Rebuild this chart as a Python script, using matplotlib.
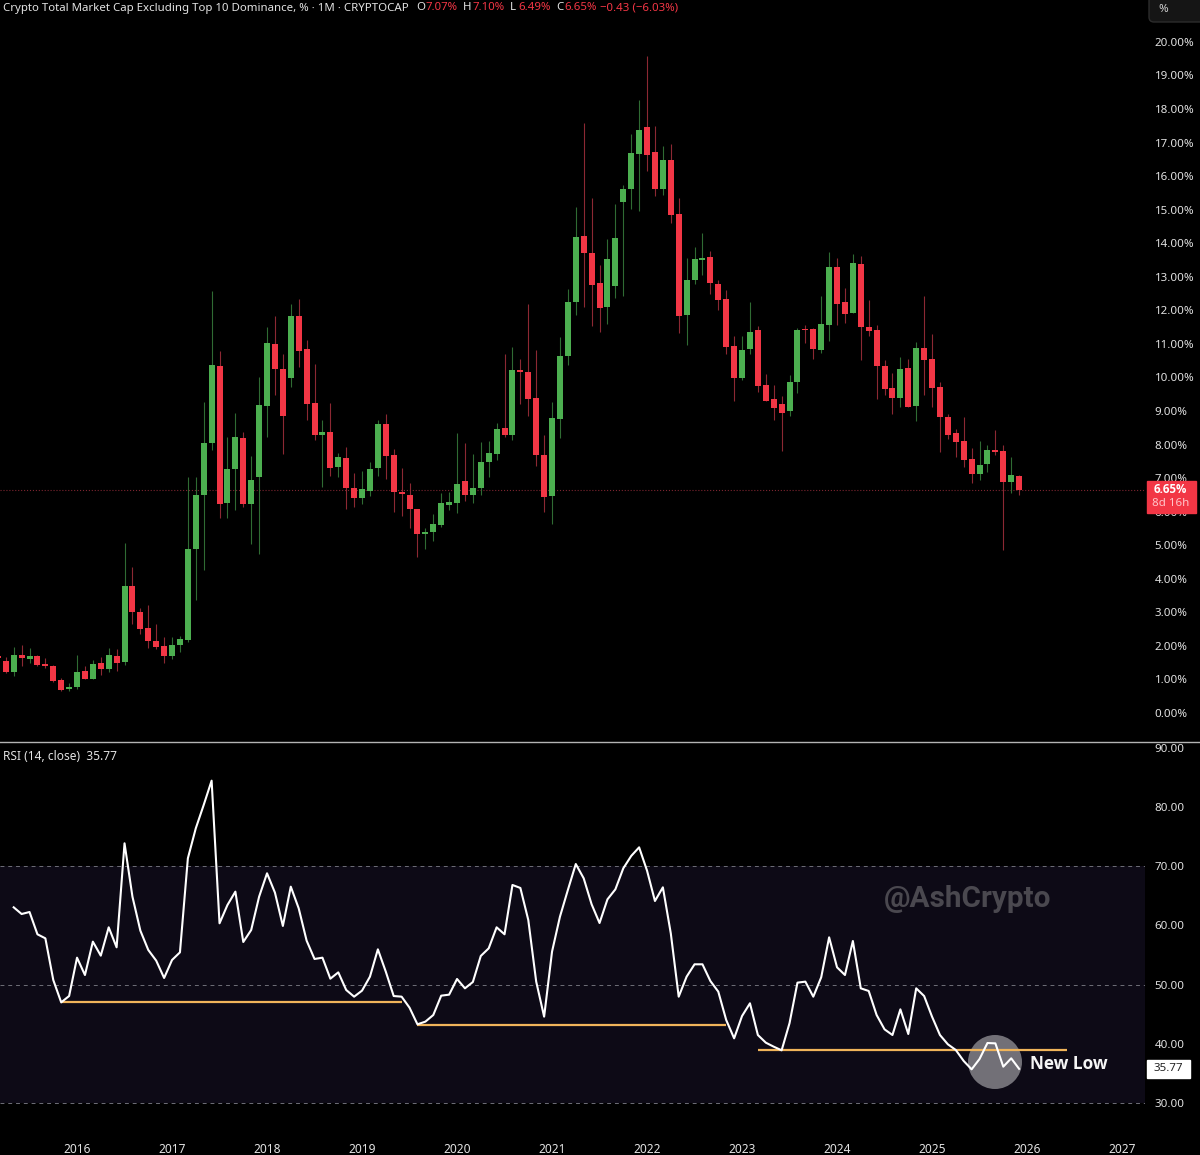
# plot.py
# Total market cap excl. top 10 dominance, monthly candles + RSI panel

import numpy as np
import matplotlib
matplotlib.use("Agg")
import matplotlib.pyplot as plt
from matplotlib.lines import Line2D
from matplotlib.patches import Circle, FancyBboxPatch, Rectangle

# --- Data: month index, 0 = Jan 2016 ---
months = np.arange(-10, 120)

opens = [
    1.70, 1.55, 1.21, 1.72, 1.61, 1.70, 1.47, 1.40, 0.99, 0.70,
    0.77, 1.25, 1.02, 1.49, 1.32, 1.71, 1.51, 3.79, 3.02, 2.52, 2.16, 2.00,
    1.69, 2.02, 2.18, 4.88, 6.50, 8.04, 10.35, 6.25, 7.26, 8.20, 6.23, 7.04,
    9.15, 11.01, 10.25, 9.99, 11.82, 10.84, 9.24, 8.29, 8.36, 7.33, 7.59, 6.70,
    6.41, 6.61, 7.29, 8.60, 7.69, 6.59, 6.51, 6.08, 5.32, 5.40, 5.59, 6.19,
    6.27, 6.90, 6.49, 6.71, 7.48, 7.72, 8.49, 8.30, 10.23, 10.16, 9.39, 7.68,
    6.47, 8.75, 10.64, 12.25, 14.22, 13.70, 12.82, 12.09, 12.73, 15.22, 15.61, 16.66,
    17.46, 16.72, 15.63, 16.49, 14.86, 11.86, 12.91, 13.49, 13.59, 12.79, 12.33, 10.94,
    9.99, 10.86, 11.40, 9.79, 9.35, 9.21, 9.00, 9.86, 11.45, 11.44, 10.82, 11.57,
    13.30, 12.24, 11.92, 13.39, 11.50, 11.40, 10.35, 9.68, 9.39, 10.28, 9.15, 10.89,
    10.54, 9.72, 8.82, 8.34, 8.12, 7.57, 7.12, 7.41, 7.84, 7.81, 6.88, 7.07,
]
highs = [
    1.72, 1.68, 1.98, 2.02, 1.93, 1.73, 1.63, 1.43, 1.04, 0.88,
    1.73, 1.40, 1.58, 1.67, 1.94, 1.90, 5.08, 4.34, 3.12, 3.22, 2.64, 2.25,
    2.25, 2.30, 7.02, 7.04, 9.26, 12.59, 10.80, 8.22, 8.93, 8.36, 7.66, 10.00,
    11.50, 11.83, 10.70, 12.19, 12.34, 11.12, 10.40, 8.73, 9.25, 7.76, 7.94, 7.14,
    7.22, 7.48, 8.74, 8.91, 7.86, 7.29, 6.85, 6.09, 5.50, 5.92, 6.55, 6.60,
    8.34, 8.04, 7.72, 8.07, 8.12, 8.65, 10.70, 10.90, 10.54, 12.19, 10.82, 8.29,
    9.28, 11.20, 12.63, 15.09, 17.58, 15.34, 13.35, 14.14, 15.17, 15.74, 17.25, 18.27,
    19.58, 17.48, 16.90, 16.95, 15.34, 13.57, 13.88, 14.30, 13.78, 12.89, 12.61, 11.24,
    11.24, 12.26, 11.53, 10.10, 9.77, 9.45, 10.07, 11.47, 11.56, 11.47, 12.43, 13.75,
    13.55, 12.66, 13.68, 13.62, 12.31, 11.56, 10.52, 10.14, 10.60, 10.54, 11.07, 12.43,
    11.30, 9.85, 8.91, 8.46, 8.83, 7.89, 8.12, 7.99, 8.42, 7.99, 7.62, 7.10,
]
lows = [
    1.60, 1.18, 1.10, 1.40, 1.50, 1.40, 1.33, 0.93, 0.66, 0.67,
    0.70, 1.00, 1.00, 1.14, 1.23, 1.25, 1.43, 2.64, 2.34, 1.93, 1.90, 1.50,
    1.61, 1.81, 2.13, 3.37, 4.26, 7.84, 5.82, 5.82, 6.05, 6.13, 5.03, 4.73,
    8.24, 9.48, 7.72, 9.73, 10.32, 8.73, 8.14, 6.73, 7.06, 7.02, 6.07, 6.15,
    6.23, 6.47, 7.07, 6.96, 6.00, 5.87, 5.50, 4.64, 4.88, 5.14, 5.53, 6.05,
    5.97, 6.33, 6.25, 6.50, 7.02, 7.54, 8.24, 8.14, 9.21, 8.85, 7.37, 5.99,
    5.63, 8.19, 10.37, 11.86, 12.11, 11.53, 11.36, 11.59, 12.36, 12.43, 15.03, 14.96,
    16.16, 15.41, 15.43, 14.60, 11.34, 10.97, 12.78, 13.06, 12.48, 12.01, 10.70, 9.29,
    9.93, 10.70, 9.58, 9.29, 8.73, 7.82, 8.85, 9.55, 11.04, 10.54, 10.74, 11.09,
    11.57, 11.63, 11.91, 10.52, 11.24, 9.35, 9.48, 8.90, 9.13, 9.11, 8.71, 9.48,
    9.13, 7.78, 8.17, 7.62, 7.34, 6.85, 6.95, 7.19, 7.69, 4.86, 6.55, 6.49,
]
closes = [
    1.65, 1.22, 1.72, 1.63, 1.70, 1.42, 1.41, 0.95, 0.69, 0.78,
    1.23, 1.01, 1.47, 1.30, 1.73, 1.50, 3.79, 3.02, 2.49, 2.16, 1.97, 1.69,
    2.04, 2.20, 4.88, 6.51, 8.06, 10.37, 6.23, 7.26, 8.22, 6.23, 6.94, 9.18,
    11.04, 10.24, 8.85, 11.82, 10.80, 9.21, 8.29, 8.36, 7.29, 7.62, 6.70, 6.41,
    6.67, 7.26, 8.60, 7.67, 6.59, 6.54, 6.07, 5.32, 5.40, 5.63, 6.27, 6.30,
    6.81, 6.51, 6.71, 7.49, 7.75, 8.47, 8.30, 10.23, 10.15, 9.37, 7.68, 6.45,
    8.78, 10.64, 12.25, 14.20, 13.72, 12.77, 12.08, 13.52, 14.16, 15.61, 16.68, 17.39,
    16.63, 15.61, 16.49, 14.84, 11.84, 12.91, 13.52, 13.55, 12.81, 12.31, 10.92, 9.97,
    10.83, 11.36, 9.75, 9.30, 9.08, 8.94, 9.87, 11.40, 11.42, 10.84, 11.59, 13.30,
    12.19, 11.90, 13.41, 11.49, 11.38, 10.33, 9.66, 9.39, 10.24, 9.13, 10.89, 10.52,
    9.68, 8.82, 8.30, 8.09, 7.54, 7.11, 7.40, 7.84, 7.79, 6.88, 7.08, 6.65,
]

rsi_months = np.arange(-8, 120)
rsi = [
    63.07, 61.94, 62.28, 58.51, 57.83, 50.79, 47.01, 48.08,
    54.56, 51.63, 57.27, 54.90, 59.69, 56.31, 73.89, 64.87, 59.13, 55.86, 54.06, 51.13,
    54.17, 55.46, 71.35, 76.42, 80.37, 84.48, 60.37, 63.46, 65.72, 57.21, 59.24, 64.87,
    68.82, 65.55, 59.92, 66.56, 62.90, 57.44, 54.34, 54.56, 51.01, 52.08, 49.10, 47.97,
    48.99, 51.35, 55.97, 52.20, 48.08, 47.97, 46.11, 43.30, 43.75, 44.87, 48.14, 48.31,
    50.96, 49.38, 50.45, 54.85, 56.14, 59.69, 58.51, 66.85, 66.34, 60.93, 50.51, 44.59,
    55.58, 61.49, 66.00, 70.39, 67.97, 63.58, 60.42, 64.42, 66.11, 69.66, 71.75, 73.21,
    69.27, 64.14, 66.45, 58.68, 47.97, 51.35, 53.44, 53.44, 50.62, 48.82, 44.03, 40.93,
    44.70, 46.85, 41.49, 40.20, 39.52, 38.90, 43.50, 50.34, 50.51, 47.97, 51.24, 58.00,
    52.93, 51.63, 57.38, 49.38, 48.93, 44.87, 42.45, 41.49, 45.83, 41.66, 49.38, 48.08,
    44.59, 41.49, 39.92, 38.96, 37.10, 35.69, 37.44, 40.14, 40.08, 36.14, 37.55, 35.77,
]

# support lines on the RSI: start month, end month, level
support_starts = [-2, 43, 86]
support_ends = [41, 82, 125]
support_levels = [47.13, 43.13, 38.96]

price_ticks = list(range(0, 21))
rsi_ticks = [30, 40, 50, 60, 70, 80, 90]
rsi_guides = [30, 50, 70]
year_ticks = list(range(0, 144, 12))
year_labels = [str(y) for y in range(2016, 2028)]

last_close = closes[-1]
last_rsi = rsi[-1]

# --- Colours ---
GREEN = "#4caf50"
RED = "#f23645"
GREEN_WICK = "#2f6b33"
RED_WICK = "#8c2833"
TEXT = "#e2e2e2"
BAND = "#0d0a16"
ORANGE = "#f0b45a"

W, H = 1200, 1155
FONT = "Noto Sans"


def fx(px):
    return px / W


def fy(py):
    return 1 - py / H


plt.rcParams["font.family"] = FONT

fig = plt.figure(figsize=(W / 100, H / 100), dpi=100, facecolor="black")
ax = fig.add_axes([0, fy(741), fx(1145), 741 / H], facecolor="black")
ax_rsi = fig.add_axes([0, fy(1133), fx(1145), (1133 - 742) / H], facecolor="black", sharex=ax)

# --- Candles ---
for m, o, h, l, c in zip(months, opens, highs, lows, closes):
    up = c >= o
    ax.vlines(m, l, h, color=GREEN_WICK if up else RED_WICK, lw=0.8, zorder=2)
    ax.bar(m, abs(c - o), bottom=min(o, c), width=0.76, color=GREEN if up else RED, zorder=3)

ax.axhline(last_close, color="#7d2530", lw=0.8, ls=":", zorder=1)

ax.set_xlim(-9.73, 134.9)
ax.set_ylim(-0.835, 21.25)
ax.yaxis.tick_right()
ax.set_yticks(price_ticks)
ax.set_yticklabels([f"{v:.2f}%" for v in price_ticks])
ax.tick_params(axis="y", length=0, pad=7, labelsize=8.3, labelcolor=TEXT)
ax.tick_params(axis="x", length=0, labelbottom=False)

# price badge on the scale
ax.add_patch(Rectangle((1.0015, 5.96), 0.0432, 0.96, transform=ax.get_yaxis_transform(),
                       color=RED, clip_on=False, zorder=5))
ax.text(1.0225, 6.65, f"{last_close:.2f}%", transform=ax.get_yaxis_transform(), color="white",
        fontsize=8.3, fontweight="bold", family="Open Sans", ha="center", va="center", zorder=6)
ax.text(1.0225, 6.23, "8d 16h", transform=ax.get_yaxis_transform(), color="#ffc4c9",
        fontsize=8.3, ha="center", va="center", zorder=6)

# --- RSI panel ---
ax_rsi.axhspan(30, 70, color=BAND, lw=0, zorder=0)
for level in rsi_guides:
    ax_rsi.axhline(level, color="#6f6f78", lw=0.7, ls=(0, (4, 4)), zorder=1)

ax_rsi.add_patch(Circle((995, 1155 - 1062), 27, transform=None, color="#ffffff", alpha=0.42, lw=0, zorder=2))
ax_rsi.hlines(support_levels, support_starts, support_ends, color=ORANGE, lw=1.6, zorder=3)
ax_rsi.plot(rsi_months, rsi, color="white", lw=1.5, zorder=4)

ax_rsi.set_ylim(24.93, 91.01)
ax_rsi.yaxis.tick_right()
ax_rsi.set_yticks(rsi_ticks)
ax_rsi.set_yticklabels([f"{v:.2f}" for v in rsi_ticks])
ax_rsi.tick_params(axis="y", length=0, pad=7, labelsize=8.3, labelcolor=TEXT)
ax_rsi.set_xticks(year_ticks)
ax_rsi.set_xticklabels(year_labels)
ax_rsi.tick_params(axis="x", length=0, pad=7, labelsize=8.6, labelcolor=TEXT)

# rsi value box
ax_rsi.add_patch(Rectangle((1.0015, last_rsi - 1.5), 0.0376, 3.0, transform=ax_rsi.get_yaxis_transform(),
                           color="white", clip_on=False, zorder=5))
ax_rsi.text(1.0205, last_rsi, f"{last_rsi:.2f}", transform=ax_rsi.get_yaxis_transform(), color="#222222",
            fontsize=8.3, ha="center", va="center", zorder=6)

for spine in list(ax.spines.values()) + list(ax_rsi.spines.values()):
    spine.set_visible(False)

fig.add_artist(Line2D([0, 1], [fy(741.5), fy(741.5)], color="#b4b4b4", lw=1.0))

# scale mode button, top right
fig.add_artist(FancyBboxPatch((1149, 1155 - 22), 70, 40, boxstyle="round,pad=0,rounding_size=5",
                              transform=None, facecolor="#151515", edgecolor="#2c2c2c", lw=1))
fig.text(fx(1163), fy(9), "%", color="#cfcfcf", fontsize=8.3, ha="center", va="center")

# --- Header ---
fig.text(fx(3), fy(8), "Crypto Total Market Cap Excluding Top 10 Dominance, % · 1M · CRYPTOCAP",
         color=TEXT, fontsize=8.25, va="center")
for px, label, color in [
    (416, "O", TEXT), (425, "7.07%", RED), (463, "H", TEXT), (472, "7.10%", RED),
    (510, "L", TEXT), (518, "6.49%", RED), (556, "C", TEXT), (564, "6.65%", RED),
    (600, "−0.43 (−6.03%)", RED),
]:
    fig.text(fx(px), fy(8), label, color=color, fontsize=8.25, va="center")

fig.text(fx(3), fy(757), f"RSI (14, close)  {last_rsi:.2f}", color=TEXT, fontsize=8.6, va="center")

# --- Annotations ---
fig.text(fx(967.5), fy(899), "@AshCrypto", color="#4a484f", fontsize=21.4, fontweight="bold",
         family="Roboto", ha="center", va="center")
fig.text(fx(1030), fy(1064), "New Low", color="#f5f5f5", fontsize=12.4, fontweight="bold",
         family="Open Sans", va="center")

fig.savefig("out.png", dpi=100, facecolor="black")
